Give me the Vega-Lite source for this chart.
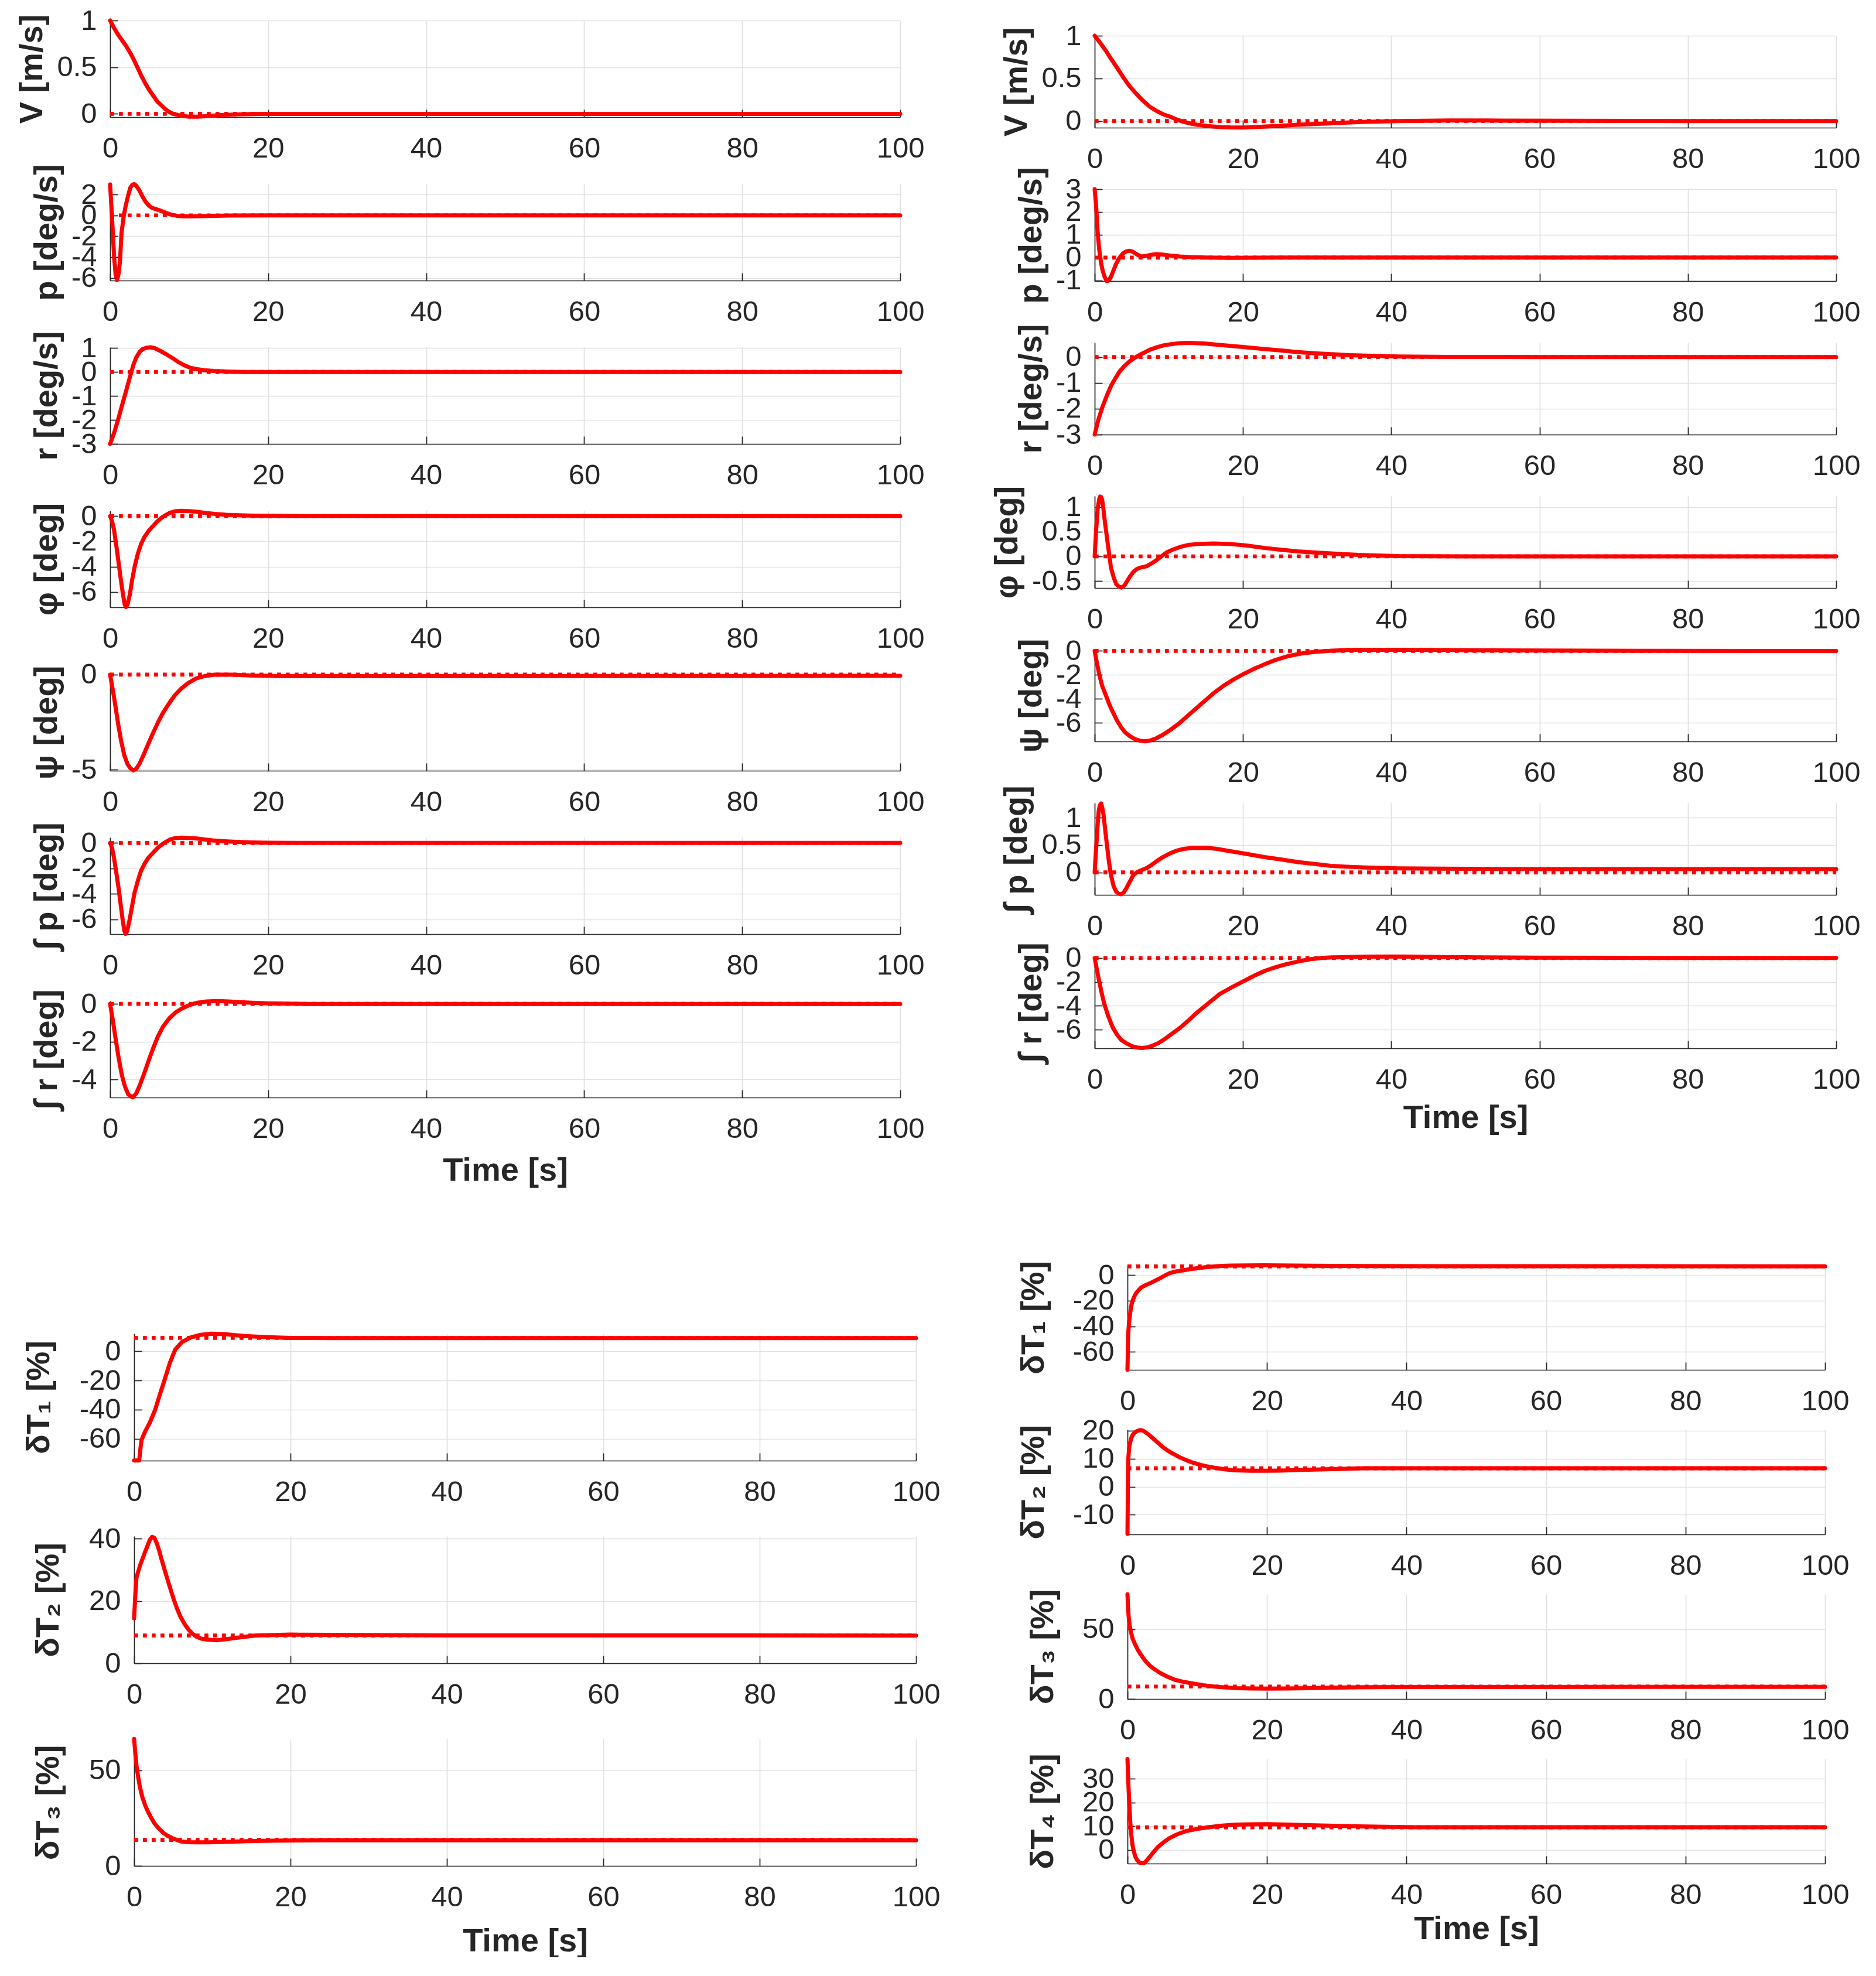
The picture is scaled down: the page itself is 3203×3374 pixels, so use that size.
{
"$schema": "https://vega.github.io/schema/vega-lite/v6.json",
"padding": {"left": 26, "top": 0, "right": 0, "bottom": 0},
"background": "white",
"config": {
 "view": {"stroke": null},
 "font": "Liberation Sans",
 "axis": {"labelFont":"Liberation Sans","labelFontSize":49,"labelColor":"#262626","titleFont":"Liberation Sans","titleFontSize":56,"titleFontWeight":"bold","titleColor":"#262626","domainColor":"#262626","domainWidth":1.7,"tickColor":"#262626","tickWidth":1.7,"tickSize":-13,"gridColor":"#e1e1e1","gridWidth":1.7,"labelOverlap":false,"labelFlush":false},
 "axisX": {"labelPadding":42,"titlePadding":20},
 "axisY": {"labelPadding":36,"titlePadding":13}
},
"datasets": {
 "TL_V":[{"series":"reference","t":0,"y":0},{"series":"reference","t":100,"y":0},{"series":"response","t":0,"y":1},{"series":"response","t":0.5,"y":0.92},{"series":"response","t":1,"y":0.85},{"series":"response","t":1.5,"y":0.79},{"series":"response","t":2,"y":0.73},{"series":"response","t":2.5,"y":0.66},{"series":"response","t":3,"y":0.58},{"series":"response","t":3.5,"y":0.49},{"series":"response","t":4,"y":0.4},{"series":"response","t":4.5,"y":0.32},{"series":"response","t":5,"y":0.25},{"series":"response","t":5.5,"y":0.19},{"series":"response","t":6,"y":0.13},{"series":"response","t":6.5,"y":0.09},{"series":"response","t":7,"y":0.05},{"series":"response","t":7.5,"y":0.02},{"series":"response","t":8,"y":0},{"series":"response","t":9,"y":-0.02},{"series":"response","t":10,"y":-0.03},{"series":"response","t":11,"y":-0.03},{"series":"response","t":12,"y":-0.025},{"series":"response","t":14,"y":-0.013},{"series":"response","t":16,"y":-0.006},{"series":"response","t":18,"y":-0.002},{"series":"response","t":20,"y":0},{"series":"response","t":100,"y":0}],
 "TL_p":[{"series":"reference","t":0,"y":0},{"series":"reference","t":100,"y":0},{"series":"response","t":0,"y":2.96},{"series":"response","t":0.25,"y":-0.3},{"series":"response","t":0.5,"y":-3.9},{"series":"response","t":0.7,"y":-5.7},{"series":"response","t":0.87,"y":-6.2},{"series":"response","t":1.05,"y":-5.7},{"series":"response","t":1.25,"y":-4.4},{"series":"response","t":1.44,"y":-1.7},{"series":"response","t":1.74,"y":0},{"series":"response","t":2,"y":1.04},{"series":"response","t":2.3,"y":1.95},{"series":"response","t":2.57,"y":2.68},{"series":"response","t":2.85,"y":2.95},{"series":"response","t":3.06,"y":3},{"series":"response","t":3.3,"y":2.85},{"series":"response","t":3.7,"y":2.4},{"series":"response","t":4.1,"y":1.8},{"series":"response","t":4.5,"y":1.3},{"series":"response","t":4.9,"y":0.95},{"series":"response","t":5.3,"y":0.72},{"series":"response","t":5.8,"y":0.6},{"series":"response","t":6.2,"y":0.5},{"series":"response","t":6.7,"y":0.36},{"series":"response","t":7.2,"y":0.2},{"series":"response","t":7.7,"y":0.08},{"series":"response","t":8.5,"y":-0.05},{"series":"response","t":9.5,"y":-0.1},{"series":"response","t":11,"y":-0.08},{"series":"response","t":12.5,"y":-0.05},{"series":"response","t":15,"y":-0.02},{"series":"response","t":20,"y":0},{"series":"response","t":100,"y":0}],
 "TL_r":[{"series":"reference","t":0,"y":0},{"series":"reference","t":100,"y":0},{"series":"response","t":0,"y":-3},{"series":"response","t":0.5,"y":-2.55},{"series":"response","t":1,"y":-2},{"series":"response","t":1.5,"y":-1.4},{"series":"response","t":2,"y":-0.82},{"series":"response","t":2.5,"y":-0.22},{"series":"response","t":2.95,"y":0.3},{"series":"response","t":3.3,"y":0.6},{"series":"response","t":3.7,"y":0.82},{"series":"response","t":4.1,"y":0.95},{"series":"response","t":4.6,"y":1.01},{"series":"response","t":5.1,"y":1.03},{"series":"response","t":5.6,"y":1},{"series":"response","t":6.35,"y":0.88},{"series":"response","t":7.1,"y":0.74},{"series":"response","t":7.9,"y":0.58},{"series":"response","t":8.6,"y":0.42},{"series":"response","t":9.4,"y":0.28},{"series":"response","t":10.1,"y":0.18},{"series":"response","t":10.9,"y":0.12},{"series":"response","t":12,"y":0.07},{"series":"response","t":13.2,"y":0.04},{"series":"response","t":15,"y":0.015},{"series":"response","t":17,"y":0},{"series":"response","t":100,"y":0}],
 "TL_phi":[{"series":"reference","t":0,"y":0},{"series":"reference","t":100,"y":0},{"series":"response","t":0,"y":0},{"series":"response","t":0.25,"y":-0.4},{"series":"response","t":0.5,"y":-1.1},{"series":"response","t":0.8,"y":-2.4},{"series":"response","t":1.06,"y":-3.6},{"series":"response","t":1.35,"y":-5},{"series":"response","t":1.63,"y":-6.2},{"series":"response","t":1.85,"y":-7},{"series":"response","t":2,"y":-7.2},{"series":"response","t":2.2,"y":-7},{"series":"response","t":2.5,"y":-6.2},{"series":"response","t":2.8,"y":-5},{"series":"response","t":3.14,"y":-3.9},{"series":"response","t":3.5,"y":-3},{"series":"response","t":3.9,"y":-2.24},{"series":"response","t":4.35,"y":-1.65},{"series":"response","t":4.84,"y":-1.2},{"series":"response","t":5.4,"y":-0.8},{"series":"response","t":6,"y":-0.4},{"series":"response","t":6.7,"y":-0.05},{"series":"response","t":7.5,"y":0.25},{"series":"response","t":8.2,"y":0.38},{"series":"response","t":9,"y":0.42},{"series":"response","t":10,"y":0.4},{"series":"response","t":10.9,"y":0.35},{"series":"response","t":12,"y":0.26},{"series":"response","t":13.2,"y":0.18},{"series":"response","t":14.7,"y":0.11},{"series":"response","t":16.2,"y":0.07},{"series":"response","t":18,"y":0.04},{"series":"response","t":20,"y":0.02},{"series":"response","t":25,"y":0},{"series":"response","t":100,"y":0}],
 "TL_psi":[{"series":"reference","t":0,"y":0},{"series":"reference","t":100,"y":0},{"series":"response","t":0,"y":0},{"series":"response","t":0.5,"y":-1.19},{"series":"response","t":1.06,"y":-2.7},{"series":"response","t":1.4,"y":-3.5},{"series":"response","t":1.8,"y":-4.24},{"series":"response","t":2.2,"y":-4.7},{"series":"response","t":2.57,"y":-4.92},{"series":"response","t":2.95,"y":-5.03},{"series":"response","t":3.3,"y":-4.95},{"series":"response","t":3.7,"y":-4.7},{"series":"response","t":4.2,"y":-4.25},{"series":"response","t":4.84,"y":-3.63},{"series":"response","t":5.4,"y":-3.1},{"series":"response","t":6,"y":-2.56},{"series":"response","t":6.7,"y":-2},{"series":"response","t":7.5,"y":-1.49},{"series":"response","t":8.2,"y":-1.08},{"series":"response","t":9,"y":-0.73},{"series":"response","t":9.9,"y":-0.43},{"series":"response","t":10.9,"y":-0.2},{"series":"response","t":12,"y":-0.07},{"series":"response","t":13.2,"y":0},{"series":"response","t":15.4,"y":0},{"series":"response","t":18,"y":-0.05},{"series":"response","t":22,"y":-0.08},{"series":"response","t":40,"y":-0.08},{"series":"response","t":100,"y":-0.06}],
 "TL_ip":[{"series":"reference","t":0,"y":0},{"series":"reference","t":100,"y":0},{"series":"response","t":0,"y":0},{"series":"response","t":0.25,"y":-0.4},{"series":"response","t":0.5,"y":-1.2},{"series":"response","t":0.8,"y":-2.4},{"series":"response","t":1.06,"y":-3.5},{"series":"response","t":1.35,"y":-4.9},{"series":"response","t":1.6,"y":-6.1},{"series":"response","t":1.8,"y":-6.9},{"series":"response","t":1.95,"y":-7.15},{"series":"response","t":2.15,"y":-6.95},{"series":"response","t":2.45,"y":-6.1},{"series":"response","t":2.8,"y":-4.9},{"series":"response","t":3.1,"y":-3.9},{"series":"response","t":3.5,"y":-3},{"series":"response","t":3.9,"y":-2.2},{"series":"response","t":4.35,"y":-1.65},{"series":"response","t":4.8,"y":-1.2},{"series":"response","t":5.4,"y":-0.8},{"series":"response","t":6,"y":-0.4},{"series":"response","t":6.7,"y":-0.05},{"series":"response","t":7.5,"y":0.25},{"series":"response","t":8.2,"y":0.38},{"series":"response","t":9,"y":0.42},{"series":"response","t":10,"y":0.4},{"series":"response","t":11,"y":0.35},{"series":"response","t":12,"y":0.27},{"series":"response","t":13,"y":0.2},{"series":"response","t":14.5,"y":0.13},{"series":"response","t":16,"y":0.08},{"series":"response","t":18,"y":0.04},{"series":"response","t":20,"y":0.02},{"series":"response","t":25,"y":0},{"series":"response","t":100,"y":0}],
 "TL_ir":[{"series":"reference","t":0,"y":0},{"series":"reference","t":100,"y":0},{"series":"response","t":0,"y":0},{"series":"response","t":0.38,"y":-0.96},{"series":"response","t":0.75,"y":-2},{"series":"response","t":1.13,"y":-2.98},{"series":"response","t":1.5,"y":-3.8},{"series":"response","t":1.9,"y":-4.4},{"series":"response","t":2.3,"y":-4.8},{"series":"response","t":2.87,"y":-4.95},{"series":"response","t":3.3,"y":-4.75},{"series":"response","t":3.77,"y":-4.3},{"series":"response","t":4.3,"y":-3.7},{"series":"response","t":4.9,"y":-2.98},{"series":"response","t":5.45,"y":-2.35},{"series":"response","t":6,"y":-1.77},{"series":"response","t":6.7,"y":-1.2},{"series":"response","t":7.5,"y":-0.76},{"series":"response","t":8.3,"y":-0.45},{"series":"response","t":9.05,"y":-0.25},{"series":"response","t":10,"y":-0.07},{"series":"response","t":10.9,"y":0.05},{"series":"response","t":12.2,"y":0.13},{"series":"response","t":13.6,"y":0.15},{"series":"response","t":15,"y":0.13},{"series":"response","t":16.2,"y":0.1},{"series":"response","t":18,"y":0.06},{"series":"response","t":20,"y":0.03},{"series":"response","t":25,"y":0},{"series":"response","t":100,"y":0}],
 "TR_V":[{"series":"reference","t":0,"y":0},{"series":"reference","t":100,"y":0},{"series":"response","t":0,"y":1},{"series":"response","t":0.8,"y":0.91},{"series":"response","t":1.54,"y":0.82},{"series":"response","t":2.2,"y":0.73},{"series":"response","t":2.9,"y":0.64},{"series":"response","t":3.8,"y":0.52},{"series":"response","t":4.7,"y":0.41},{"series":"response","t":5.6,"y":0.32},{"series":"response","t":6.5,"y":0.24},{"series":"response","t":7.4,"y":0.17},{"series":"response","t":8.3,"y":0.12},{"series":"response","t":9.2,"y":0.08},{"series":"response","t":10.2,"y":0.05},{"series":"response","t":11,"y":0.02},{"series":"response","t":12,"y":-0.01},{"series":"response","t":13,"y":-0.03},{"series":"response","t":13.8,"y":-0.044},{"series":"response","t":15,"y":-0.056},{"series":"response","t":16,"y":-0.065},{"series":"response","t":17,"y":-0.071},{"series":"response","t":18.3,"y":-0.075},{"series":"response","t":20.1,"y":-0.076},{"series":"response","t":22,"y":-0.07},{"series":"response","t":25,"y":-0.055},{"series":"response","t":27.4,"y":-0.044},{"series":"response","t":30,"y":-0.033},{"series":"response","t":32,"y":-0.027},{"series":"response","t":34,"y":-0.018},{"series":"response","t":36.5,"y":-0.01},{"series":"response","t":41,"y":0},{"series":"response","t":47.8,"y":0.006},{"series":"response","t":55,"y":0.005},{"series":"response","t":65,"y":0.002},{"series":"response","t":80,"y":0},{"series":"response","t":100,"y":0}],
 "TR_p":[{"series":"reference","t":0,"y":0},{"series":"reference","t":100,"y":0},{"series":"response","t":0,"y":3},{"series":"response","t":0.18,"y":2.34},{"series":"response","t":0.41,"y":1.07},{"series":"response","t":0.6,"y":0.4},{"series":"response","t":0.73,"y":0.05},{"series":"response","t":0.9,"y":-0.3},{"series":"response","t":1.09,"y":-0.58},{"series":"response","t":1.35,"y":-0.85},{"series":"response","t":1.63,"y":-1.03},{"series":"response","t":1.9,"y":-1},{"series":"response","t":2.2,"y":-0.84},{"series":"response","t":2.55,"y":-0.55},{"series":"response","t":2.9,"y":-0.27},{"series":"response","t":3.35,"y":0},{"series":"response","t":3.8,"y":0.18},{"series":"response","t":4.25,"y":0.27},{"series":"response","t":4.7,"y":0.3},{"series":"response","t":5.05,"y":0.27},{"series":"response","t":5.4,"y":0.2},{"series":"response","t":5.85,"y":0.11},{"series":"response","t":6.3,"y":0.05},{"series":"response","t":6.85,"y":0.07},{"series":"response","t":7.4,"y":0.11},{"series":"response","t":8.3,"y":0.15},{"series":"response","t":9.2,"y":0.13},{"series":"response","t":10.2,"y":0.09},{"series":"response","t":11.5,"y":0.05},{"series":"response","t":12.9,"y":0.025},{"series":"response","t":15,"y":0.005},{"series":"response","t":18.3,"y":-0.01},{"series":"response","t":25,"y":0},{"series":"response","t":100,"y":0}],
 "TR_r":[{"series":"reference","t":0,"y":0},{"series":"reference","t":100,"y":0},{"series":"response","t":0,"y":-3},{"series":"response","t":0.5,"y":-2.42},{"series":"response","t":1.09,"y":-1.9},{"series":"response","t":1.6,"y":-1.52},{"series":"response","t":2.2,"y":-1.12},{"series":"response","t":2.8,"y":-0.82},{"series":"response","t":3.36,"y":-0.56},{"series":"response","t":4,"y":-0.35},{"series":"response","t":4.7,"y":-0.17},{"series":"response","t":5.4,"y":-0.03},{"series":"response","t":6.1,"y":0.09},{"series":"response","t":6.8,"y":0.19},{"series":"response","t":7.4,"y":0.28},{"series":"response","t":8.3,"y":0.37},{"series":"response","t":9.25,"y":0.45},{"series":"response","t":10.3,"y":0.5},{"series":"response","t":11.5,"y":0.54},{"series":"response","t":12.6,"y":0.55},{"series":"response","t":13.8,"y":0.54},{"series":"response","t":15,"y":0.52},{"series":"response","t":16,"y":0.49},{"series":"response","t":18,"y":0.44},{"series":"response","t":20,"y":0.39},{"series":"response","t":22.9,"y":0.31},{"series":"response","t":25,"y":0.26},{"series":"response","t":27.4,"y":0.19},{"series":"response","t":30,"y":0.14},{"series":"response","t":31.9,"y":0.11},{"series":"response","t":34,"y":0.08},{"series":"response","t":36.5,"y":0.056},{"series":"response","t":41,"y":0.02},{"series":"response","t":48,"y":0.005},{"series":"response","t":60,"y":0},{"series":"response","t":100,"y":0}],
 "TR_phi":[{"series":"reference","t":0,"y":0},{"series":"reference","t":100,"y":0},{"series":"response","t":0,"y":0},{"series":"response","t":0.18,"y":0.49},{"series":"response","t":0.41,"y":0.97},{"series":"response","t":0.6,"y":1.15},{"series":"response","t":0.73,"y":1.21},{"series":"response","t":0.87,"y":1.2},{"series":"response","t":1,"y":1.15},{"series":"response","t":1.15,"y":1},{"series":"response","t":1.3,"y":0.79},{"series":"response","t":1.55,"y":0.5},{"series":"response","t":1.77,"y":0.25},{"series":"response","t":2,"y":0},{"series":"response","t":2.2,"y":-0.23},{"series":"response","t":2.55,"y":-0.42},{"series":"response","t":2.9,"y":-0.56},{"series":"response","t":3.25,"y":-0.61},{"series":"response","t":3.6,"y":-0.63},{"series":"response","t":3.95,"y":-0.6},{"series":"response","t":4.26,"y":-0.53},{"series":"response","t":4.7,"y":-0.42},{"series":"response","t":5.2,"y":-0.32},{"series":"response","t":5.65,"y":-0.26},{"series":"response","t":6.1,"y":-0.23},{"series":"response","t":7,"y":-0.2},{"series":"response","t":7.7,"y":-0.14},{"series":"response","t":8.3,"y":-0.08},{"series":"response","t":9,"y":0},{"series":"response","t":9.7,"y":0.08},{"series":"response","t":10.6,"y":0.14},{"series":"response","t":11.5,"y":0.19},{"series":"response","t":12.6,"y":0.23},{"series":"response","t":13.8,"y":0.25},{"series":"response","t":16,"y":0.26},{"series":"response","t":18.3,"y":0.25},{"series":"response","t":20.5,"y":0.22},{"series":"response","t":22.9,"y":0.17},{"series":"response","t":25,"y":0.135},{"series":"response","t":27.4,"y":0.1},{"series":"response","t":29.5,"y":0.08},{"series":"response","t":31.9,"y":0.06},{"series":"response","t":34,"y":0.04},{"series":"response","t":36.5,"y":0.024},{"series":"response","t":41,"y":0.006},{"series":"response","t":50,"y":0},{"series":"response","t":100,"y":0}],
 "TR_psi":[{"series":"reference","t":0,"y":0},{"series":"reference","t":100,"y":0},{"series":"response","t":0,"y":0},{"series":"response","t":0.3,"y":-1},{"series":"response","t":0.63,"y":-2},{"series":"response","t":1,"y":-2.9},{"series":"response","t":1.54,"y":-3.75},{"series":"response","t":2,"y":-4.5},{"series":"response","t":2.45,"y":-5.1},{"series":"response","t":3,"y":-5.8},{"series":"response","t":3.6,"y":-6.4},{"series":"response","t":4.1,"y":-6.8},{"series":"response","t":4.7,"y":-7.1},{"series":"response","t":5.4,"y":-7.35},{"series":"response","t":6.1,"y":-7.5},{"series":"response","t":6.8,"y":-7.55},{"series":"response","t":7.5,"y":-7.48},{"series":"response","t":8.3,"y":-7.3},{"series":"response","t":9.2,"y":-7},{"series":"response","t":10.2,"y":-6.6},{"series":"response","t":11.3,"y":-6.1},{"series":"response","t":12.4,"y":-5.5},{"series":"response","t":13.5,"y":-4.9},{"series":"response","t":14.7,"y":-4.25},{"series":"response","t":16,"y":-3.55},{"series":"response","t":17.4,"y":-2.9},{"series":"response","t":18.7,"y":-2.4},{"series":"response","t":20,"y":-1.95},{"series":"response","t":21.4,"y":-1.52},{"series":"response","t":22.9,"y":-1.12},{"series":"response","t":24.4,"y":-0.75},{"series":"response","t":26,"y":-0.45},{"series":"response","t":27.8,"y":-0.22},{"series":"response","t":29.7,"y":-0.08},{"series":"response","t":32,"y":0.02},{"series":"response","t":34.2,"y":0.08},{"series":"response","t":37,"y":0.1},{"series":"response","t":40,"y":0.1},{"series":"response","t":45.5,"y":0.08},{"series":"response","t":52,"y":0.05},{"series":"response","t":60,"y":0.03},{"series":"response","t":75,"y":0.01},{"series":"response","t":100,"y":0}],
 "TR_ip":[{"series":"reference","t":0,"y":0},{"series":"reference","t":100,"y":0},{"series":"response","t":0,"y":0},{"series":"response","t":0.13,"y":0.3},{"series":"response","t":0.27,"y":0.59},{"series":"response","t":0.4,"y":0.87},{"series":"response","t":0.54,"y":1.12},{"series":"response","t":0.7,"y":1.23},{"series":"response","t":0.86,"y":1.26},{"series":"response","t":1,"y":1.2},{"series":"response","t":1.18,"y":1.07},{"series":"response","t":1.4,"y":0.8},{"series":"response","t":1.63,"y":0.53},{"series":"response","t":1.9,"y":0.22},{"series":"response","t":2.2,"y":-0.05},{"series":"response","t":2.55,"y":-0.25},{"series":"response","t":2.9,"y":-0.35},{"series":"response","t":3.25,"y":-0.39},{"series":"response","t":3.6,"y":-0.4},{"series":"response","t":3.95,"y":-0.36},{"series":"response","t":4.26,"y":-0.29},{"series":"response","t":4.7,"y":-0.18},{"series":"response","t":5.2,"y":-0.05},{"series":"response","t":5.65,"y":0},{"series":"response","t":6.1,"y":0.03},{"series":"response","t":7,"y":0.08},{"series":"response","t":7.6,"y":0.13},{"series":"response","t":8.3,"y":0.2},{"series":"response","t":9.2,"y":0.28},{"series":"response","t":10.2,"y":0.35},{"series":"response","t":11.1,"y":0.4},{"series":"response","t":12,"y":0.43},{"series":"response","t":13,"y":0.445},{"series":"response","t":14.2,"y":0.45},{"series":"response","t":15.4,"y":0.445},{"series":"response","t":16.5,"y":0.43},{"series":"response","t":18.2,"y":0.39},{"series":"response","t":20,"y":0.35},{"series":"response","t":22.9,"y":0.28},{"series":"response","t":25,"y":0.24},{"series":"response","t":27.4,"y":0.19},{"series":"response","t":30,"y":0.15},{"series":"response","t":31.9,"y":0.12},{"series":"response","t":34,"y":0.105},{"series":"response","t":36.5,"y":0.09},{"series":"response","t":41,"y":0.075},{"series":"response","t":50,"y":0.065},{"series":"response","t":60,"y":0.06},{"series":"response","t":100,"y":0.06}],
 "TR_ir":[{"series":"reference","t":0,"y":0},{"series":"reference","t":100,"y":0},{"series":"response","t":0,"y":0},{"series":"response","t":0.53,"y":-1.7},{"series":"response","t":0.9,"y":-2.8},{"series":"response","t":1.29,"y":-3.83},{"series":"response","t":1.85,"y":-4.9},{"series":"response","t":2.43,"y":-5.8},{"series":"response","t":3,"y":-6.4},{"series":"response","t":3.57,"y":-6.85},{"series":"response","t":4.3,"y":-7.15},{"series":"response","t":5.1,"y":-7.4},{"series":"response","t":5.8,"y":-7.5},{"series":"response","t":6.4,"y":-7.54},{"series":"response","t":7.1,"y":-7.48},{"series":"response","t":7.76,"y":-7.35},{"series":"response","t":8.5,"y":-7.15},{"series":"response","t":9.3,"y":-6.85},{"series":"response","t":10.4,"y":-6.35},{"series":"response","t":11.6,"y":-5.8},{"series":"response","t":12.7,"y":-5.2},{"series":"response","t":13.8,"y":-4.57},{"series":"response","t":15.3,"y":-3.8},{"series":"response","t":16.9,"y":-3},{"series":"response","t":18.5,"y":-2.45},{"series":"response","t":20,"y":-1.96},{"series":"response","t":21.5,"y":-1.48},{"series":"response","t":23,"y":-1.06},{"series":"response","t":24.5,"y":-0.75},{"series":"response","t":26,"y":-0.49},{"series":"response","t":27.5,"y":-0.28},{"series":"response","t":29,"y":-0.11},{"series":"response","t":30.5,"y":0},{"series":"response","t":32,"y":0.05},{"series":"response","t":35.9,"y":0.11},{"series":"response","t":40.2,"y":0.13},{"series":"response","t":44,"y":0.11},{"series":"response","t":47.3,"y":0.08},{"series":"response","t":53,"y":0.05},{"series":"response","t":60,"y":0.03},{"series":"response","t":75,"y":0.01},{"series":"response","t":100,"y":0}],
 "BL_d1":[{"series":"reference","t":0,"y":9.2},{"series":"reference","t":100,"y":9.2},{"series":"response","t":0,"y":-74.9},{"series":"response","t":0.65,"y":-74.9},{"series":"response","t":0.8,"y":-67},{"series":"response","t":0.95,"y":-60.8},{"series":"response","t":1.38,"y":-55.3},{"series":"response","t":2,"y":-49},{"series":"response","t":2.67,"y":-40.4},{"series":"response","t":3.3,"y":-29.5},{"series":"response","t":3.96,"y":-18.5},{"series":"response","t":4.6,"y":-7.5},{"series":"response","t":5.25,"y":1.1},{"series":"response","t":6.1,"y":6.3},{"series":"response","t":7.2,"y":9.4},{"series":"response","t":8.5,"y":11.3},{"series":"response","t":9.8,"y":12.1},{"series":"response","t":10.8,"y":12},{"series":"response","t":11.9,"y":11.6},{"series":"response","t":14.1,"y":10.5},{"series":"response","t":17.1,"y":9.7},{"series":"response","t":20,"y":9.2},{"series":"response","t":25,"y":9.1},{"series":"response","t":100,"y":9.1}],
 "BL_d2":[{"series":"reference","t":0,"y":8.9},{"series":"reference","t":100,"y":8.9},{"series":"response","t":0,"y":14.4},{"series":"response","t":0.15,"y":22},{"series":"response","t":0.3,"y":27.5},{"series":"response","t":0.73,"y":31.2},{"series":"response","t":1.38,"y":35.6},{"series":"response","t":2,"y":39.6},{"series":"response","t":2.3,"y":40.6},{"series":"response","t":2.6,"y":40.2},{"series":"response","t":2.9,"y":38.5},{"series":"response","t":3.2,"y":36.2},{"series":"response","t":3.5,"y":33.4},{"series":"response","t":3.85,"y":30.4},{"series":"response","t":4.2,"y":27.5},{"series":"response","t":4.6,"y":24.2},{"series":"response","t":5,"y":21},{"series":"response","t":5.45,"y":17.8},{"series":"response","t":5.9,"y":15.1},{"series":"response","t":6.45,"y":12.6},{"series":"response","t":7,"y":10.7},{"series":"response","t":7.5,"y":9.4},{"series":"response","t":8,"y":8.5},{"series":"response","t":8.6,"y":7.9},{"series":"response","t":9.3,"y":7.6},{"series":"response","t":10.6,"y":7.4},{"series":"response","t":11.7,"y":7.7},{"series":"response","t":12.8,"y":8.1},{"series":"response","t":15.4,"y":8.9},{"series":"response","t":20,"y":9.2},{"series":"response","t":25.7,"y":9.1},{"series":"response","t":40,"y":8.95},{"series":"response","t":100,"y":8.9}],
 "BL_d3":[{"series":"reference","t":0,"y":13.6},{"series":"reference","t":100,"y":13.6},{"series":"response","t":0,"y":66.4},{"series":"response","t":0.15,"y":59},{"series":"response","t":0.3,"y":52.5},{"series":"response","t":0.5,"y":47},{"series":"response","t":0.69,"y":42.4},{"series":"response","t":0.88,"y":38.8},{"series":"response","t":1.07,"y":35.7},{"series":"response","t":1.45,"y":31.3},{"series":"response","t":1.83,"y":27.9},{"series":"response","t":2.2,"y":25},{"series":"response","t":2.6,"y":22.3},{"series":"response","t":3.15,"y":19.6},{"series":"response","t":3.74,"y":17.3},{"series":"response","t":4.3,"y":15.7},{"series":"response","t":4.9,"y":14.5},{"series":"response","t":5.45,"y":13.6},{"series":"response","t":6,"y":12.8},{"series":"response","t":6.9,"y":12.4},{"series":"response","t":7.9,"y":12.3},{"series":"response","t":9.5,"y":12.35},{"series":"response","t":11,"y":12.5},{"series":"response","t":14,"y":12.9},{"series":"response","t":17.1,"y":13.2},{"series":"response","t":25,"y":13.4},{"series":"response","t":100,"y":13.4}],
 "BR_d1":[{"series":"reference","t":0,"y":6.7},{"series":"reference","t":100,"y":6.7},{"series":"response","t":0,"y":-74},{"series":"response","t":0.05,"y":-60},{"series":"response","t":0.1,"y":-46},{"series":"response","t":0.24,"y":-36},{"series":"response","t":0.43,"y":-28},{"series":"response","t":0.6,"y":-22.5},{"series":"response","t":0.82,"y":-18.8},{"series":"response","t":1.05,"y":-16},{"series":"response","t":1.3,"y":-13.7},{"series":"response","t":1.65,"y":-11.5},{"series":"response","t":2,"y":-9.6},{"series":"response","t":2.6,"y":-7.9},{"series":"response","t":3.2,"y":-6.5},{"series":"response","t":3.95,"y":-4.5},{"series":"response","t":4.7,"y":-2.4},{"series":"response","t":5.4,"y":-0.3},{"series":"response","t":6.1,"y":1.6},{"series":"response","t":7,"y":2.8},{"series":"response","t":8,"y":3.7},{"series":"response","t":9,"y":4.6},{"series":"response","t":10,"y":5.3},{"series":"response","t":11.2,"y":6.1},{"series":"response","t":12.4,"y":6.7},{"series":"response","t":13.6,"y":7.1},{"series":"response","t":14.8,"y":7.3},{"series":"response","t":17,"y":7.5},{"series":"response","t":19.6,"y":7.55},{"series":"response","t":22,"y":7.45},{"series":"response","t":24.4,"y":7.3},{"series":"response","t":29.3,"y":7.1},{"series":"response","t":34,"y":7},{"series":"response","t":45,"y":6.9},{"series":"response","t":100,"y":6.8}],
 "BR_d2":[{"series":"reference","t":0,"y":6.6},{"series":"reference","t":100,"y":6.6},{"series":"response","t":0,"y":-16.8},{"series":"response","t":0.05,"y":-2},{"series":"response","t":0.1,"y":9.4},{"series":"response","t":0.24,"y":13.9},{"series":"response","t":0.4,"y":16},{"series":"response","t":0.58,"y":17.6},{"series":"response","t":0.8,"y":18.7},{"series":"response","t":1.06,"y":19.4},{"series":"response","t":1.4,"y":19.9},{"series":"response","t":1.8,"y":20.2},{"series":"response","t":2.15,"y":20.1},{"series":"response","t":2.5,"y":19.6},{"series":"response","t":3.1,"y":18.5},{"series":"response","t":3.7,"y":17.2},{"series":"response","t":4.45,"y":15.5},{"series":"response","t":5.2,"y":13.9},{"series":"response","t":5.9,"y":12.7},{"series":"response","t":6.6,"y":11.7},{"series":"response","t":7.5,"y":10.5},{"series":"response","t":8.5,"y":9.4},{"series":"response","t":9.5,"y":8.5},{"series":"response","t":10.5,"y":7.8},{"series":"response","t":11.7,"y":7.1},{"series":"response","t":12.9,"y":6.6},{"series":"response","t":14.1,"y":6.2},{"series":"response","t":15.3,"y":5.9},{"series":"response","t":17.7,"y":5.7},{"series":"response","t":20,"y":5.7},{"series":"response","t":22,"y":5.8},{"series":"response","t":24.4,"y":6},{"series":"response","t":29.3,"y":6.3},{"series":"response","t":34,"y":6.6},{"series":"response","t":45,"y":6.6},{"series":"response","t":100,"y":6.6}],
 "BR_d3":[{"series":"reference","t":0,"y":8.9},{"series":"reference","t":100,"y":8.9},{"series":"response","t":0,"y":74.9},{"series":"response","t":0.08,"y":66},{"series":"response","t":0.16,"y":59.5},{"series":"response","t":0.3,"y":53},{"series":"response","t":0.48,"y":48.3},{"series":"response","t":0.75,"y":43},{"series":"response","t":1.1,"y":39},{"series":"response","t":1.5,"y":35},{"series":"response","t":1.93,"y":31.6},{"series":"response","t":2.5,"y":27.6},{"series":"response","t":3.13,"y":24.2},{"series":"response","t":3.9,"y":21.2},{"series":"response","t":4.7,"y":18.6},{"series":"response","t":5.7,"y":16},{"series":"response","t":6.7,"y":13.9},{"series":"response","t":7.9,"y":12.4},{"series":"response","t":9.2,"y":11.2},{"series":"response","t":10.8,"y":9.9},{"series":"response","t":12.4,"y":8.9},{"series":"response","t":14,"y":8.3},{"series":"response","t":15.6,"y":7.8},{"series":"response","t":17.8,"y":7.5},{"series":"response","t":20,"y":7.4},{"series":"response","t":23,"y":7.5},{"series":"response","t":26,"y":7.8},{"series":"response","t":29.5,"y":8.1},{"series":"response","t":33,"y":8.4},{"series":"response","t":40,"y":8.6},{"series":"response","t":100,"y":8.7}],
 "BR_d4":[{"series":"reference","t":0,"y":9.6},{"series":"reference","t":100,"y":9.6},{"series":"response","t":0,"y":38.4},{"series":"response","t":0.08,"y":32},{"series":"response","t":0.16,"y":25.7},{"series":"response","t":0.28,"y":18.5},{"series":"response","t":0.4,"y":11.8},{"series":"response","t":0.55,"y":6.5},{"series":"response","t":0.72,"y":2.1},{"series":"response","t":0.9,"y":-0.5},{"series":"response","t":1.12,"y":-2.7},{"series":"response","t":1.4,"y":-4.3},{"series":"response","t":1.77,"y":-5.4},{"series":"response","t":2.3,"y":-5.6},{"series":"response","t":2.7,"y":-4.6},{"series":"response","t":3.1,"y":-3.2},{"series":"response","t":3.7,"y":-1},{"series":"response","t":4.3,"y":1.1},{"series":"response","t":5.1,"y":3.1},{"series":"response","t":5.9,"y":4.8},{"series":"response","t":7.1,"y":6.6},{"series":"response","t":8.4,"y":8},{"series":"response","t":10,"y":8.9},{"series":"response","t":11.6,"y":9.6},{"series":"response","t":13.6,"y":10.3},{"series":"response","t":15.6,"y":10.7},{"series":"response","t":17.8,"y":10.85},{"series":"response","t":20,"y":10.9},{"series":"response","t":23,"y":10.75},{"series":"response","t":26,"y":10.5},{"series":"response","t":29.5,"y":10.25},{"series":"response","t":33,"y":10},{"series":"response","t":37,"y":9.8},{"series":"response","t":41,"y":9.6},{"series":"response","t":100,"y":9.6}]
},
"spacing": 86,
"bounds": "full",
"hconcat": [
{"spacing": 0, "bounds": "flush", "vconcat": [
 {"width":1,"height":35,"data":{"values":[]},"mark":{"type":"point","opacity":0},"encoding":{}},
 {"width":1349,"height":165,"data":{"name":"TL_V"},"encoding":{"x":{"field":"t","type":"quantitative","scale":{"domain":[0,100],"nice":false,"zero":false},"axis":{"values":[0,20,40,60,80,100],"title":null,"labelExpr":"toString(datum.value)"}},"y":{"field":"y","type":"quantitative","scale":{"domain":[-0.035,1],"nice":false,"zero":false},"axis":{"values":[0,0.5,1],"title":"V [m/s]","labelExpr":"toString(datum.value)"}}},"layer":[{"transform":[{"filter":"datum.series === 'reference'"}],"mark":{"type":"line","color":"#ff0000","strokeWidth":6.7,"strokeDash":[6.7,8.3],"strokeCap":"butt"},"encoding":{}},{"transform":[{"filter":"datum.series === 'response'"}],"mark":{"type":"line","color":"#ff0000","strokeWidth":7,"strokeJoin":"round","strokeCap":"round"},"encoding":{}}]},
 {"width":1,"height":114,"data":{"values":[]},"mark":{"type":"point","opacity":0},"encoding":{}},
 {"width":1349,"height":165,"data":{"name":"TL_p"},"encoding":{"x":{"field":"t","type":"quantitative","scale":{"domain":[0,100],"nice":false,"zero":false},"axis":{"values":[0,20,40,60,80,100],"title":null,"labelExpr":"toString(datum.value)"}},"y":{"field":"y","type":"quantitative","scale":{"domain":[-6.25,3.02],"nice":false,"zero":false},"axis":{"values":[-6,-4,-2,0,2],"title":"p [deg/s]","labelExpr":"toString(datum.value)"}}},"layer":[{"transform":[{"filter":"datum.series === 'reference'"}],"mark":{"type":"line","color":"#ff0000","strokeWidth":6.7,"strokeDash":[6.7,8.3],"strokeCap":"butt"},"encoding":{}},{"transform":[{"filter":"datum.series === 'response'"}],"mark":{"type":"line","color":"#ff0000","strokeWidth":7,"strokeJoin":"round","strokeCap":"round"},"encoding":{}}]},
 {"width":1,"height":114,"data":{"values":[]},"mark":{"type":"point","opacity":0},"encoding":{}},
 {"width":1349,"height":165,"data":{"name":"TL_r"},"encoding":{"x":{"field":"t","type":"quantitative","scale":{"domain":[0,100],"nice":false,"zero":false},"axis":{"values":[0,20,40,60,80,100],"title":null,"labelExpr":"toString(datum.value)"}},"y":{"field":"y","type":"quantitative","scale":{"domain":[-3,1.03],"nice":false,"zero":false},"axis":{"values":[-3,-2,-1,0,1],"title":"r [deg/s]","labelExpr":"toString(datum.value)"}}},"layer":[{"transform":[{"filter":"datum.series === 'reference'"}],"mark":{"type":"line","color":"#ff0000","strokeWidth":6.7,"strokeDash":[6.7,8.3],"strokeCap":"butt"},"encoding":{}},{"transform":[{"filter":"datum.series === 'response'"}],"mark":{"type":"line","color":"#ff0000","strokeWidth":7,"strokeJoin":"round","strokeCap":"round"},"encoding":{}}]},
 {"width":1,"height":114,"data":{"values":[]},"mark":{"type":"point","opacity":0},"encoding":{}},
 {"width":1349,"height":165,"data":{"name":"TL_phi"},"encoding":{"x":{"field":"t","type":"quantitative","scale":{"domain":[0,100],"nice":false,"zero":false},"axis":{"values":[0,20,40,60,80,100],"title":null,"labelExpr":"toString(datum.value)"}},"y":{"field":"y","type":"quantitative","scale":{"domain":[-7.22,0.43],"nice":false,"zero":false},"axis":{"values":[-6,-4,-2,0],"title":"φ [deg]","labelExpr":"toString(datum.value)"}}},"layer":[{"transform":[{"filter":"datum.series === 'reference'"}],"mark":{"type":"line","color":"#ff0000","strokeWidth":6.7,"strokeDash":[6.7,8.3],"strokeCap":"butt"},"encoding":{}},{"transform":[{"filter":"datum.series === 'response'"}],"mark":{"type":"line","color":"#ff0000","strokeWidth":7,"strokeJoin":"round","strokeCap":"round"},"encoding":{}}]},
 {"width":1,"height":114,"data":{"values":[]},"mark":{"type":"point","opacity":0},"encoding":{}},
 {"width":1349,"height":165,"data":{"name":"TL_psi"},"encoding":{"x":{"field":"t","type":"quantitative","scale":{"domain":[0,100],"nice":false,"zero":false},"axis":{"values":[0,20,40,60,80,100],"title":null,"labelExpr":"toString(datum.value)"}},"y":{"field":"y","type":"quantitative","scale":{"domain":[-5.05,0.03],"nice":false,"zero":false},"axis":{"values":[-5,0],"title":"ψ [deg]","labelExpr":"toString(datum.value)"}}},"layer":[{"transform":[{"filter":"datum.series === 'reference'"}],"mark":{"type":"line","color":"#ff0000","strokeWidth":6.7,"strokeDash":[6.7,8.3],"strokeCap":"butt"},"encoding":{}},{"transform":[{"filter":"datum.series === 'response'"}],"mark":{"type":"line","color":"#ff0000","strokeWidth":7,"strokeJoin":"round","strokeCap":"round"},"encoding":{}}]},
 {"width":1,"height":114,"data":{"values":[]},"mark":{"type":"point","opacity":0},"encoding":{}},
 {"width":1349,"height":165,"data":{"name":"TL_ip"},"encoding":{"x":{"field":"t","type":"quantitative","scale":{"domain":[0,100],"nice":false,"zero":false},"axis":{"values":[0,20,40,60,80,100],"title":null,"labelExpr":"toString(datum.value)"}},"y":{"field":"y","type":"quantitative","scale":{"domain":[-7.17,0.43],"nice":false,"zero":false},"axis":{"values":[-6,-4,-2,0],"title":"∫ p [deg]","labelExpr":"toString(datum.value)"}}},"layer":[{"transform":[{"filter":"datum.series === 'reference'"}],"mark":{"type":"line","color":"#ff0000","strokeWidth":6.7,"strokeDash":[6.7,8.3],"strokeCap":"butt"},"encoding":{}},{"transform":[{"filter":"datum.series === 'response'"}],"mark":{"type":"line","color":"#ff0000","strokeWidth":7,"strokeJoin":"round","strokeCap":"round"},"encoding":{}}]},
 {"width":1,"height":114,"data":{"values":[]},"mark":{"type":"point","opacity":0},"encoding":{}},
 {"width":1349,"height":165,"data":{"name":"TL_ir"},"encoding":{"x":{"field":"t","type":"quantitative","scale":{"domain":[0,100],"nice":false,"zero":false},"axis":{"values":[0,20,40,60,80,100],"title":"Time [s]","titlePadding":19,"labelExpr":"toString(datum.value)"}},"y":{"field":"y","type":"quantitative","scale":{"domain":[-4.96,0.16],"nice":false,"zero":false},"axis":{"values":[-4,-2,0],"title":"∫ r [deg]","labelExpr":"toString(datum.value)"}}},"layer":[{"transform":[{"filter":"datum.series === 'reference'"}],"mark":{"type":"line","color":"#ff0000","strokeWidth":6.7,"strokeDash":[6.7,8.3],"strokeCap":"butt"},"encoding":{}},{"transform":[{"filter":"datum.series === 'response'"}],"mark":{"type":"line","color":"#ff0000","strokeWidth":7,"strokeJoin":"round","strokeCap":"round"},"encoding":{}}]},
 {"width":1,"height":403,"data":{"values":[]},"mark":{"type":"point","opacity":0},"encoding":{}},
 {"width":1376,"height":217,"data":{"name":"BL_d1"},"encoding":{"x":{"field":"t","type":"quantitative","scale":{"domain":[0,100],"nice":false,"zero":false,"range":[41,1376]},"axis":{"values":[0,20,40,60,80,100],"title":null,"labelExpr":"toString(datum.value)"}},"y":{"field":"y","type":"quantitative","scale":{"domain":[-75,12.2],"nice":false,"zero":false},"axis":{"values":[-60,-40,-20,0],"offset":-41,"title":"δT₁ [%]","titlePadding":40,"labelExpr":"toString(datum.value)"}}},"layer":[{"transform":[{"filter":"datum.series === 'reference'"}],"mark":{"type":"line","color":"#ff0000","strokeWidth":6.7,"strokeDash":[6.7,8.3],"strokeCap":"butt"},"encoding":{}},{"transform":[{"filter":"datum.series === 'response'"}],"mark":{"type":"line","color":"#ff0000","strokeWidth":7,"strokeJoin":"round","strokeCap":"round"},"encoding":{}}]},
 {"width":1,"height":129,"data":{"values":[]},"mark":{"type":"point","opacity":0},"encoding":{}},
 {"width":1376,"height":217,"data":{"name":"BL_d2"},"encoding":{"x":{"field":"t","type":"quantitative","scale":{"domain":[0,100],"nice":false,"zero":false,"range":[41,1376]},"axis":{"values":[0,20,40,60,80,100],"title":null,"labelExpr":"toString(datum.value)"}},"y":{"field":"y","type":"quantitative","scale":{"domain":[0,40.8],"nice":false,"zero":false},"axis":{"values":[0,20,40],"offset":-41,"title":"δT₂ [%]","titlePadding":40,"labelExpr":"toString(datum.value)"}}},"layer":[{"transform":[{"filter":"datum.series === 'reference'"}],"mark":{"type":"line","color":"#ff0000","strokeWidth":6.7,"strokeDash":[6.7,8.3],"strokeCap":"butt"},"encoding":{}},{"transform":[{"filter":"datum.series === 'response'"}],"mark":{"type":"line","color":"#ff0000","strokeWidth":7,"strokeJoin":"round","strokeCap":"round"},"encoding":{}}]},
 {"width":1,"height":129,"data":{"values":[]},"mark":{"type":"point","opacity":0},"encoding":{}},
 {"width":1376,"height":217,"data":{"name":"BL_d3"},"encoding":{"x":{"field":"t","type":"quantitative","scale":{"domain":[0,100],"nice":false,"zero":false,"range":[41,1376]},"axis":{"values":[0,20,40,60,80,100],"title":"Time [s]","titlePadding":23,"labelExpr":"toString(datum.value)"}},"y":{"field":"y","type":"quantitative","scale":{"domain":[0,66.5],"nice":false,"zero":false},"axis":{"values":[0,50],"offset":-41,"title":"δT₃ [%]","titlePadding":40,"labelExpr":"toString(datum.value)"}}},"layer":[{"transform":[{"filter":"datum.series === 'reference'"}],"mark":{"type":"line","color":"#ff0000","strokeWidth":6.7,"strokeDash":[6.7,8.3],"strokeCap":"butt"},"encoding":{}},{"transform":[{"filter":"datum.series === 'response'"}],"mark":{"type":"line","color":"#ff0000","strokeWidth":7,"strokeJoin":"round","strokeCap":"round"},"encoding":{}}]}
]},
{"spacing": 0, "bounds": "flush", "vconcat": [
 {"width":1,"height":61,"data":{"values":[]},"mark":{"type":"point","opacity":0},"encoding":{}},
 {"width":1266,"height":157,"data":{"name":"TR_V"},"encoding":{"x":{"field":"t","type":"quantitative","scale":{"domain":[0,100],"nice":false,"zero":false},"axis":{"values":[0,20,40,60,80,100],"title":null,"labelExpr":"toString(datum.value)"}},"y":{"field":"y","type":"quantitative","scale":{"domain":[-0.078,1],"nice":false,"zero":false},"axis":{"values":[0,0.5,1],"title":"V [m/s]","labelExpr":"toString(datum.value)"}}},"layer":[{"transform":[{"filter":"datum.series === 'reference'"}],"mark":{"type":"line","color":"#ff0000","strokeWidth":6.7,"strokeDash":[6.7,8.3],"strokeCap":"butt"},"encoding":{}},{"transform":[{"filter":"datum.series === 'response'"}],"mark":{"type":"line","color":"#ff0000","strokeWidth":7,"strokeJoin":"round","strokeCap":"round"},"encoding":{}}]},
 {"width":1,"height":105,"data":{"values":[]},"mark":{"type":"point","opacity":0},"encoding":{}},
 {"width":1266,"height":157,"data":{"name":"TR_p"},"encoding":{"x":{"field":"t","type":"quantitative","scale":{"domain":[0,100],"nice":false,"zero":false},"axis":{"values":[0,20,40,60,80,100],"title":null,"labelExpr":"toString(datum.value)"}},"y":{"field":"y","type":"quantitative","scale":{"domain":[-1.03,3],"nice":false,"zero":false},"axis":{"values":[-1,0,1,2,3],"title":"p [deg/s]","labelExpr":"toString(datum.value)"}}},"layer":[{"transform":[{"filter":"datum.series === 'reference'"}],"mark":{"type":"line","color":"#ff0000","strokeWidth":6.7,"strokeDash":[6.7,8.3],"strokeCap":"butt"},"encoding":{}},{"transform":[{"filter":"datum.series === 'response'"}],"mark":{"type":"line","color":"#ff0000","strokeWidth":7,"strokeJoin":"round","strokeCap":"round"},"encoding":{}}]},
 {"width":1,"height":105,"data":{"values":[]},"mark":{"type":"point","opacity":0},"encoding":{}},
 {"width":1266,"height":157,"data":{"name":"TR_r"},"encoding":{"x":{"field":"t","type":"quantitative","scale":{"domain":[0,100],"nice":false,"zero":false},"axis":{"values":[0,20,40,60,80,100],"title":null,"labelExpr":"toString(datum.value)"}},"y":{"field":"y","type":"quantitative","scale":{"domain":[-3,0.56],"nice":false,"zero":false},"axis":{"values":[-3,-2,-1,0],"title":"r [deg/s]","labelExpr":"toString(datum.value)"}}},"layer":[{"transform":[{"filter":"datum.series === 'reference'"}],"mark":{"type":"line","color":"#ff0000","strokeWidth":6.7,"strokeDash":[6.7,8.3],"strokeCap":"butt"},"encoding":{}},{"transform":[{"filter":"datum.series === 'response'"}],"mark":{"type":"line","color":"#ff0000","strokeWidth":7,"strokeJoin":"round","strokeCap":"round"},"encoding":{}}]},
 {"width":1,"height":105,"data":{"values":[]},"mark":{"type":"point","opacity":0},"encoding":{}},
 {"width":1266,"height":157,"data":{"name":"TR_phi"},"encoding":{"x":{"field":"t","type":"quantitative","scale":{"domain":[0,100],"nice":false,"zero":false},"axis":{"values":[0,20,40,60,80,100],"title":null,"labelExpr":"toString(datum.value)"}},"y":{"field":"y","type":"quantitative","scale":{"domain":[-0.64,1.22],"nice":false,"zero":false},"axis":{"values":[-0.5,0,0.5,1],"title":"φ [deg]","labelExpr":"toString(datum.value)"}}},"layer":[{"transform":[{"filter":"datum.series === 'reference'"}],"mark":{"type":"line","color":"#ff0000","strokeWidth":6.7,"strokeDash":[6.7,8.3],"strokeCap":"butt"},"encoding":{}},{"transform":[{"filter":"datum.series === 'response'"}],"mark":{"type":"line","color":"#ff0000","strokeWidth":7,"strokeJoin":"round","strokeCap":"round"},"encoding":{}}]},
 {"width":1,"height":105,"data":{"values":[]},"mark":{"type":"point","opacity":0},"encoding":{}},
 {"width":1266,"height":157,"data":{"name":"TR_psi"},"encoding":{"x":{"field":"t","type":"quantitative","scale":{"domain":[0,100],"nice":false,"zero":false},"axis":{"values":[0,20,40,60,80,100],"title":null,"labelExpr":"toString(datum.value)"}},"y":{"field":"y","type":"quantitative","scale":{"domain":[-7.56,0.12],"nice":false,"zero":false},"axis":{"values":[-6,-4,-2,0],"title":"ψ [deg]","labelExpr":"toString(datum.value)"}}},"layer":[{"transform":[{"filter":"datum.series === 'reference'"}],"mark":{"type":"line","color":"#ff0000","strokeWidth":6.7,"strokeDash":[6.7,8.3],"strokeCap":"butt"},"encoding":{}},{"transform":[{"filter":"datum.series === 'response'"}],"mark":{"type":"line","color":"#ff0000","strokeWidth":7,"strokeJoin":"round","strokeCap":"round"},"encoding":{}}]},
 {"width":1,"height":105,"data":{"values":[]},"mark":{"type":"point","opacity":0},"encoding":{}},
 {"width":1266,"height":157,"data":{"name":"TR_ip"},"encoding":{"x":{"field":"t","type":"quantitative","scale":{"domain":[0,100],"nice":false,"zero":false},"axis":{"values":[0,20,40,60,80,100],"title":null,"labelExpr":"toString(datum.value)"}},"y":{"field":"y","type":"quantitative","scale":{"domain":[-0.41,1.27],"nice":false,"zero":false},"axis":{"values":[0,0.5,1],"title":"∫ p [deg]","labelExpr":"toString(datum.value)"}}},"layer":[{"transform":[{"filter":"datum.series === 'reference'"}],"mark":{"type":"line","color":"#ff0000","strokeWidth":6.7,"strokeDash":[6.7,8.3],"strokeCap":"butt"},"encoding":{}},{"transform":[{"filter":"datum.series === 'response'"}],"mark":{"type":"line","color":"#ff0000","strokeWidth":7,"strokeJoin":"round","strokeCap":"round"},"encoding":{}}]},
 {"width":1,"height":105,"data":{"values":[]},"mark":{"type":"point","opacity":0},"encoding":{}},
 {"width":1266,"height":157,"data":{"name":"TR_ir"},"encoding":{"x":{"field":"t","type":"quantitative","scale":{"domain":[0,100],"nice":false,"zero":false},"axis":{"values":[0,20,40,60,80,100],"title":"Time [s]","titlePadding":13,"labelExpr":"toString(datum.value)"}},"y":{"field":"y","type":"quantitative","scale":{"domain":[-7.56,0.14],"nice":false,"zero":false},"axis":{"values":[-6,-4,-2,0],"title":"∫ r [deg]","labelExpr":"toString(datum.value)"}}},"layer":[{"transform":[{"filter":"datum.series === 'reference'"}],"mark":{"type":"line","color":"#ff0000","strokeWidth":6.7,"strokeDash":[6.7,8.3],"strokeCap":"butt"},"encoding":{}},{"transform":[{"filter":"datum.series === 'response'"}],"mark":{"type":"line","color":"#ff0000","strokeWidth":7,"strokeJoin":"round","strokeCap":"round"},"encoding":{}}]},
 {"width":1,"height":370,"data":{"values":[]},"mark":{"type":"point","opacity":0},"encoding":{}},
 {"width":1247,"height":179,"data":{"name":"BR_d1"},"encoding":{"x":{"field":"t","type":"quantitative","scale":{"domain":[0,100],"nice":false,"zero":false,"range":[56,1247]},"axis":{"values":[0,20,40,60,80,100],"title":null,"labelExpr":"toString(datum.value)"}},"y":{"field":"y","type":"quantitative","scale":{"domain":[-74,7.8],"nice":false,"zero":false},"axis":{"values":[-60,-40,-20,0],"offset":-56,"title":"δT₁ [%]","titlePadding":38,"labelExpr":"toString(datum.value)"}}},"layer":[{"transform":[{"filter":"datum.series === 'reference'"}],"mark":{"type":"line","color":"#ff0000","strokeWidth":6.7,"strokeDash":[6.7,8.3],"strokeCap":"butt"},"encoding":{}},{"transform":[{"filter":"datum.series === 'response'"}],"mark":{"type":"line","color":"#ff0000","strokeWidth":7,"strokeJoin":"round","strokeCap":"round"},"encoding":{}}]},
 {"width":1,"height":102,"data":{"values":[]},"mark":{"type":"point","opacity":0},"encoding":{}},
 {"width":1247,"height":179,"data":{"name":"BR_d2"},"encoding":{"x":{"field":"t","type":"quantitative","scale":{"domain":[0,100],"nice":false,"zero":false,"range":[56,1247]},"axis":{"values":[0,20,40,60,80,100],"title":null,"labelExpr":"toString(datum.value)"}},"y":{"field":"y","type":"quantitative","scale":{"domain":[-17,20.4],"nice":false,"zero":false},"axis":{"values":[-10,0,10,20],"offset":-56,"title":"δT₂ [%]","titlePadding":38,"labelExpr":"toString(datum.value)"}}},"layer":[{"transform":[{"filter":"datum.series === 'reference'"}],"mark":{"type":"line","color":"#ff0000","strokeWidth":6.7,"strokeDash":[6.7,8.3],"strokeCap":"butt"},"encoding":{}},{"transform":[{"filter":"datum.series === 'response'"}],"mark":{"type":"line","color":"#ff0000","strokeWidth":7,"strokeJoin":"round","strokeCap":"round"},"encoding":{}}]},
 {"width":1,"height":102,"data":{"values":[]},"mark":{"type":"point","opacity":0},"encoding":{}},
 {"width":1247,"height":179,"data":{"name":"BR_d3"},"encoding":{"x":{"field":"t","type":"quantitative","scale":{"domain":[0,100],"nice":false,"zero":false,"range":[56,1247]},"axis":{"values":[0,20,40,60,80,100],"title":null,"labelExpr":"toString(datum.value)"}},"y":{"field":"y","type":"quantitative","scale":{"domain":[0,75],"nice":false,"zero":false},"axis":{"values":[0,50],"offset":-56,"title":"δT₃ [%]","titlePadding":38,"labelExpr":"toString(datum.value)"}}},"layer":[{"transform":[{"filter":"datum.series === 'reference'"}],"mark":{"type":"line","color":"#ff0000","strokeWidth":6.7,"strokeDash":[6.7,8.3],"strokeCap":"butt"},"encoding":{}},{"transform":[{"filter":"datum.series === 'response'"}],"mark":{"type":"line","color":"#ff0000","strokeWidth":7,"strokeJoin":"round","strokeCap":"round"},"encoding":{}}]},
 {"width":1,"height":102,"data":{"values":[]},"mark":{"type":"point","opacity":0},"encoding":{}},
 {"width":1247,"height":179,"data":{"name":"BR_d4"},"encoding":{"x":{"field":"t","type":"quantitative","scale":{"domain":[0,100],"nice":false,"zero":false,"range":[56,1247]},"axis":{"values":[0,20,40,60,80,100],"title":"Time [s]","titlePadding":6,"labelExpr":"toString(datum.value)"}},"y":{"field":"y","type":"quantitative","scale":{"domain":[-5.7,38.5],"nice":false,"zero":false},"axis":{"values":[0,10,20,30],"offset":-56,"title":"δT₄ [%]","titlePadding":38,"labelExpr":"toString(datum.value)"}}},"layer":[{"transform":[{"filter":"datum.series === 'reference'"}],"mark":{"type":"line","color":"#ff0000","strokeWidth":6.7,"strokeDash":[6.7,8.3],"strokeCap":"butt"},"encoding":{}},{"transform":[{"filter":"datum.series === 'response'"}],"mark":{"type":"line","color":"#ff0000","strokeWidth":7,"strokeJoin":"round","strokeCap":"round"},"encoding":{}}]}
]}
]
}
